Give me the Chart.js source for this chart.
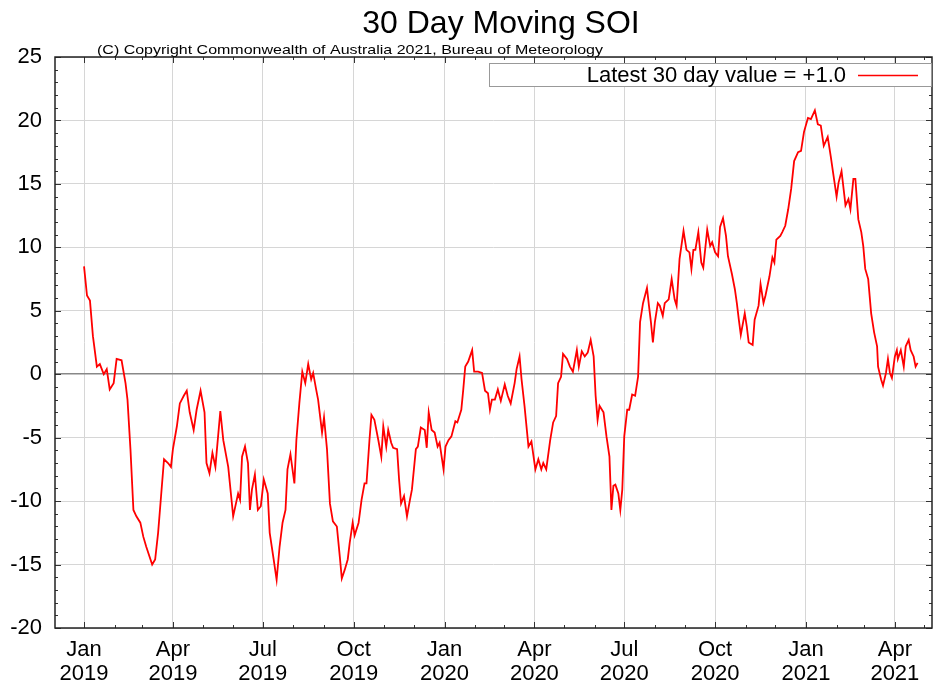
<!DOCTYPE html>
<html>
<head>
<meta charset="utf-8">
<script src="https://cdn.jsdelivr.net/npm/chart.js@4"></script>
<style>
  body { margin: 0; background: #fff; }
  canvas { display: block; }
</style>
</head>
<body>
<canvas id="soi" width="936" height="685"></canvas>
<script>
// days since 1 Jan 2019
const dayOffsets = [
    0, 3, 6, 9, 13, 16, 20, 23, 26, 30, 33, 38, 42, 44, 47, 50, 53, 57, 60, 63, 69, 72, 75, 78, 81, 85, 88, 90,
    94, 97, 101, 104, 107, 111, 114, 118, 122, 124, 127, 130, 133, 138, 141,
    146, 151, 156, 158, 160, 163, 166, 168, 170, 173, 176, 179, 182, 186, 188, 192, 195, 198, 201, 204, 206,
    209, 213, 215, 218, 221, 224, 227, 230, 232, 235, 237, 241, 243, 246, 249, 252, 256, 259, 261, 264, 267,
    269, 272, 274, 278, 281, 284, 286, 289, 291, 294,
    298, 301, 303, 306, 308, 311, 313, 317, 319, 321, 324, 327, 330, 332, 336, 338, 341, 345, 347, 349, 352,
    355, 358, 360, 364, 366, 369, 372, 376, 378, 382, 384, 386, 389, 393, 395, 399, 403, 406, 409, 411, 413,
    416, 419, 422, 426, 429, 432, 436, 438, 441, 443, 446,
    450, 453, 457, 460, 463, 465, 468, 472, 475, 478, 480, 483, 485, 489, 492, 495, 499, 501, 504, 507, 510,
    513, 516, 518, 520, 522, 526, 529, 532, 534, 536, 538, 541, 543, 545, 547, 550, 552, 555, 558, 561, 563,
    566, 570, 572, 574, 576, 578, 581, 583, 586, 588, 592, 595, 598, 600,
    603, 607, 610, 613, 615, 617, 619, 622, 625, 627, 631, 634, 636, 639, 642, 644, 647, 650, 652, 656, 659,
    661, 663, 665, 669, 671, 673, 677, 679, 683, 685, 688, 690, 694, 697, 699, 701, 705, 707, 710, 713, 716,
    719, 723, 726, 729, 733, 736, 740, 743, 746,
    749, 753, 756, 759, 762, 764, 767, 770, 771, 774, 776, 779, 781, 784, 787, 789, 791, 794, 797, 800, 803,
    804, 807, 809, 812, 814, 816, 818, 821, 823, 824, 827, 830, 832, 835, 837, 840, 842, 844
];
const soiValues = [
    8.5, 6.2, 5.8, 3.0, 0.6, 0.8, 0.0, 0.4, -1.2, -0.7, 1.2, 1.1, -0.7, -2.0, -5.9, -10.7, -11.2, -11.7, -12.8, -13.6, -15.0, -14.6, -12.5, -9.6, -6.7, -7.0, -7.3, -5.9,
    -4.1, -2.3, -1.7, -1.3, -3.0, -4.4, -2.8, -1.3, -3.0, -7.0, -7.8, -6.2, -7.3, -2.9, -5.2,
    -7.3, -11.2, -9.4, -9.9, -6.5, -5.7, -7.0, -10.7, -9.1, -7.9, -10.7, -10.4, -8.3, -9.4, -12.5, -14.6, -16.2, -13.6, -11.7, -10.7, -7.5,
    -6.3, -8.6, -5.2, -2.3, 0.2, -0.7, 0.8, -0.4, 0.1, -1.2, -2.0, -4.6, -3.4, -5.9, -10.2, -11.6, -12.0, -14.4, -16.1, -15.4, -14.6,
    -13.3, -11.7, -12.7, -11.7, -9.9, -8.6, -8.6, -5.2, -3.2, -3.6,
    -5.2, -6.5, -4.1, -5.7, -4.4, -5.4, -5.8, -5.9, -8.3, -10.2, -9.6, -11.2, -9.9, -9.1, -5.9, -5.7, -4.2, -4.4, -5.8, -3.0, -4.4,
    -4.6, -5.7, -5.4, -7.5, -5.7, -5.2, -4.9, -3.7, -3.8, -2.8, -1.2, 0.6, 1.0, 1.9, 0.2, 0.2, 0.1, -1.3, -1.5, -2.8, -2.0,
    -2.0, -1.2, -2.1, -0.8, -1.7, -2.3, -0.7, 0.4, 1.4, -0.4, -2.5,
    -5.7, -5.3, -7.5, -6.7, -7.5, -7.0, -7.5, -5.2, -3.8, -3.3, -0.7, -0.2, 1.6, 1.2, 0.6, 0.2, 1.9, 0.6, 1.8, 1.4, 1.7,
    2.7, 1.4, -1.7, -3.6, -2.5, -3.0, -4.9, -6.5, -10.7, -8.8, -8.7, -9.4, -10.7, -9.1, -4.9, -2.8, -2.8, -1.6, -1.7, -0.2, 4.1,
    5.6, 6.8, 5.4, 4.1, 2.5, 4.1, 5.6, 5.4, 4.6, 5.6, 5.9, 7.5, 5.9, 5.4,
    9.1, 11.3, 9.8, 9.6, 8.3, 9.8, 9.8, 11.2, 8.8, 8.4, 11.4, 10.1, 10.4, 9.6, 9.3, 11.6, 12.3, 10.9, 9.3, 7.9, 6.7,
    5.6, 4.3, 3.1, 4.8, 3.8, 2.5, 2.3, 4.3, 5.4, 7.1, 5.6, 6.2, 7.7, 9.2, 8.8, 10.6, 10.9, 11.2, 11.7, 13.0, 14.6,
    16.8, 17.5, 17.6, 19.1, 20.2, 20.1, 20.8, 19.7, 19.6,
    18.0, 18.7, 17.2, 15.6, 14.0, 15.1, 16.0, 14.0, 13.3, 13.8, 13.0, 15.4, 15.4, 12.2, 11.2, 10.1, 8.3, 7.5, 4.8, 3.3, 2.2,
    0.6, -0.4, -0.9, 0.1, 1.2, 0.1, -0.3, 1.4, 1.9, 1.2, 1.9, 0.6, 2.2, 2.7, 1.9, 1.4, 0.6, 0.9
];
const tickMonths = ['Jan', 'Apr', 'Jul', 'Oct', 'Jan', 'Apr', 'Jul', 'Oct', 'Jan', 'Apr'];
const tickYears = ['2019', '2019', '2019', '2019', '2020', '2020', '2020', '2020', '2021', '2021'];
const monthIdx = {Jan: 0, Apr: 3, Jul: 6, Oct: 9};
const latestValue = '+1.0';

const FONT = '"Liberation Sans", Arial, Helvetica, sans-serif';
const START = Date.UTC(2019, 0, 1);
const dayOf = (y, m) => (Date.UTC(y, m, 1) - START) / 86400000;

const tickDays = tickMonths.map((m, i) => dayOf(+tickYears[i], monthIdx[m]));
// every month start for the small ticks on the frame
const monthDays = [];
for (let y = 2018; y <= 2021; y++) {
    for (let m = 0; m < 12; m++) monthDays.push(dayOf(y, m));
}

const framePlugin = {
    id: 'gnuFrame',
    afterDatasetsDraw(chart) {
        const {ctx, chartArea: a, scales: {x, y}} = chart;
        ctx.save();

        // small inward ticks
        ctx.strokeStyle = '#333';
        ctx.lineWidth = 1;
        ctx.beginPath();
        monthDays.forEach(d => {
            if (d < x.min || d > x.max) return;
            const px = Math.round(x.getPixelForValue(d)) + 0.5;
            const len = tickDays.includes(d) ? 6 : 3;
            ctx.moveTo(px, a.bottom); ctx.lineTo(px, a.bottom - len);
            ctx.moveTo(px, a.top); ctx.lineTo(px, a.top + len);
        });
        for (let v = -20; v <= 25; v++) {
            const py = Math.round(y.getPixelForValue(v)) + 0.5;
            const len = v % 5 === 0 ? 6 : 3;
            ctx.moveTo(a.left, py); ctx.lineTo(a.left + len, py);
            ctx.moveTo(a.right, py); ctx.lineTo(a.right - len, py);
        }
        ctx.stroke();

        // frame
        ctx.strokeStyle = '#222';
        ctx.lineWidth = 1.5;
        ctx.strokeRect(a.left, a.top, a.right - a.left, a.bottom - a.top);

        // key box
        ctx.fillStyle = '#fff';
        ctx.fillRect(489, 63, 442, 23);
        ctx.strokeStyle = '#999';
        ctx.lineWidth = 1;
        ctx.strokeRect(489.5, 63.5, 442, 23);
        ctx.fillStyle = '#000';
        ctx.font = '22px ' + FONT;
        ctx.textAlign = 'right';
        ctx.textBaseline = 'middle';
        ctx.fillText(chart.data.datasets[0].label, 846, 76);
        ctx.strokeStyle = '#ff0000';
        ctx.lineWidth = 1.5;
        ctx.beginPath();
        ctx.moveTo(858, 75.5); ctx.lineTo(918, 75.5);
        ctx.stroke();

        // titles
        ctx.fillStyle = '#000';
        ctx.textAlign = 'center';
        ctx.textBaseline = 'alphabetic';
        ctx.font = '32px ' + FONT;
        ctx.fillText('30 Day Moving SOI', 501, 33);

        const note = '(C) Copyright Commonwealth of Australia 2021, Bureau of Meteorology';
        ctx.font = '13.5px ' + FONT;
        const w = ctx.measureText(note).width;
        ctx.translate(97, 54);
        ctx.scale(506 / w, 1);
        ctx.textAlign = 'left';
        ctx.fillText(note, 0, 0);
        ctx.restore();
    }
};

new Chart(document.getElementById('soi'), {
    type: 'line',
    data: {
        datasets: [{
            label: 'Latest 30 day value = ' + latestValue,
            data: dayOffsets.map((d, i) => ({x: d, y: soiValues[i]})),
            borderColor: '#ff0000',
            borderWidth: 1.8,
            pointRadius: 0,
            tension: 0,
            fill: false,
        }]
    },
    options: {
        responsive: false,
        animation: false,
        events: [],
        layout: {
            padding: {top: 57, right: 4, left: 0, bottom: 0}
        },
        plugins: {
            legend: {display: false},
            title: {display: false},
            tooltip: {enabled: false},
        },
        scales: {
            x: {
                type: 'linear',
                min: -29.4,
                max: 858.6,
                afterBuildTicks(scale) {
                    scale.ticks = tickDays.map(v => ({value: v}));
                },
                afterFit(scale) {
                    scale.height = 57;
                },
                grid: {
                    color: '#d6d6d6',
                    lineWidth: 1,
                    drawTicks: false,
                },
                border: {display: false},
                ticks: {
                    autoSkip: false,
                    maxRotation: 0,
                    padding: 10,
                    color: '#000',
                    font: {family: FONT, size: 22, lineHeight: 1.1},
                    callback(value) {
                        const i = tickDays.indexOf(value);
                        return i < 0 ? '' : [tickMonths[i], tickYears[i]];
                    }
                }
            },
            y: {
                min: -20,
                max: 25,
                afterFit(scale) {
                    scale.width = 55;
                },
                grid: {
                    color: ctx => ctx.tick && ctx.tick.value === 0 ? '#888' : '#d6d6d6',
                    lineWidth: ctx => ctx.tick && ctx.tick.value === 0 ? 1.5 : 1,
                    drawTicks: false,
                },
                border: {display: false},
                ticks: {
                    stepSize: 5,
                    padding: 13,
                    color: '#000',
                    font: {family: FONT, size: 22},
                }
            }
        }
    },
    plugins: [framePlugin]
});
</script>
</body>
</html>
